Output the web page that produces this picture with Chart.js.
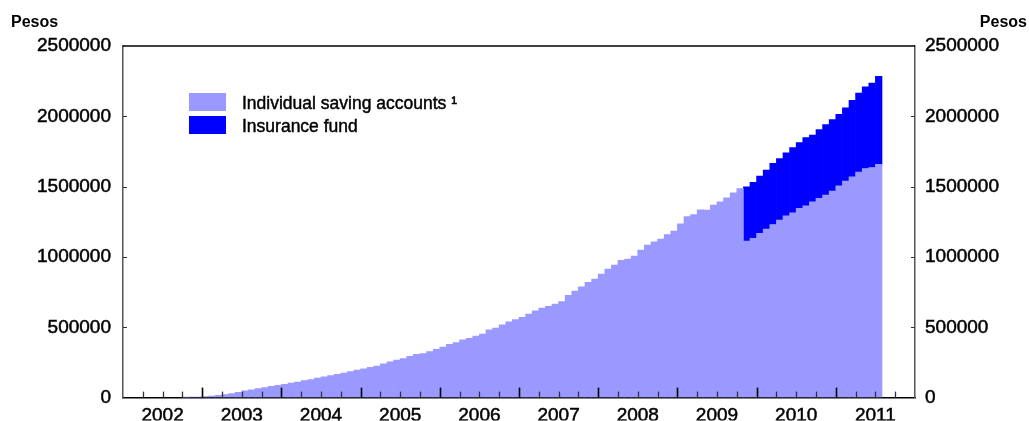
<!DOCTYPE html>
<html>
<head>
<meta charset="utf-8">
<script src="https://cdn.jsdelivr.net/npm/chart.js@4.4.1/dist/chart.umd.min.js"></script>
<style>
  html, body { margin: 0; padding: 0; background: #fff; }
  #wrap { position: relative; width: 1029px; height: 421px; font-family: "Liberation Sans", Arial, sans-serif; }
  canvas { position: absolute; left: 0; top: 0; }
  .unit { position: absolute; top: 14px; font-weight: bold; font-size: 16px; line-height: 16px; color: #000; }
  #legend { position: absolute; left: 189px; top: 93px; }
  .row { display: flex; align-items: flex-start; height: 23px; }
  .box { width: 37px; height: 18px; }
  .lbl { margin-left: 16px; font-size: 17.5px; line-height: 18px; padding-top: 1px; color: #000; white-space: nowrap; -webkit-text-stroke: 0.45px #000; }
</style>
</head>
<body>
<div id="wrap">
  <canvas id="c" width="1029" height="421"></canvas>
  <div class="unit" style="left:11px;">Pesos</div>
  <div class="unit" style="right:2px;">Pesos</div>
  <div id="legend"></div>
</div>
<script>
// ---- DATA ----
const years = ['2002','2003','2004','2005','2006','2007','2008','2009','2010','2011'];
const months = [];
years.forEach(y => { for (let m = 1; m <= 12; m++) months.push(y + '-' + String(m).padStart(2, '0')); });

const seriesNames = ['Individual saving accounts \u00B9', 'Insurance fund'];
const seriesColors = ['#9999FF', '#0000FF'];

// Individual saving accounts, monthly, Jan 2002 - Dec 2011 (null = no data)
const individual = [
  // 2002
  null, null, null, null, null, null, null, null, null, 2000, 3000, 4000,
  // 2003
  7000, 10000, 17000, 21000, 28000, 38000, 48000, 55000, 64000, 71000, 81000, 88000,
  // 2004
  95000, 104000, 111000, 121000, 128000, 138000, 147000, 156000, 166000, 175000, 185000, 195000,
  // 2005
  204000, 216000, 225000, 241000, 254000, 266000, 277000, 294000, 308000, 313000, 327000, 344000,
  // 2006
  360000, 379000, 391000, 410000, 422000, 438000, 452000, 481000, 495000, 518000, 538000, 554000,
  // 2007
  571000, 594000, 617000, 637000, 649000, 665000, 682000, 727000, 758000, 788000, 819000, 843000,
  // 2008
  879000, 914000, 942000, 976000, 985000, 1006000, 1049000, 1085000, 1108000, 1127000, 1160000, 1184000,
  // 2009
  1236000, 1288000, 1302000, 1335000, 1333000, 1369000, 1392000, 1420000, 1456000, 1487000, 1113000, 1132000,
  // 2010
  1168000, 1198000, 1231000, 1262000, 1293000, 1314000, 1345000, 1364000, 1392000, 1416000, 1440000, 1468000,
  // 2011
  1506000, 1539000, 1570000, 1603000, 1629000, 1636000, 1658000, null, null, null, null, null
];

// Insurance fund, monthly, Jan 2002 - Dec 2011
const insurance = [
  // 2002-2008
  ...Array(84).fill(null),
  // 2009
  null, null, null, null, null, null, null, null, null, null, 386000, 398000,
  // 2010
  407000, 419000, 434000, 438000, 447000, 464000, 469000, 485000, 474000, 490000, 502000, 509000,
  // 2011
  509000, 521000, 544000, 563000, 580000, 601000, 627000, null, null, null, null, null
];

const yTicks = [0, 500000, 1000000, 1500000, 2000000, 2500000];

// ---- CHART ----
const FONT = '"Liberation Sans", Arial, sans-serif';
const tickFont = { family: FONT, size: 19 };

const frame = {
  id: 'frame',
  afterDatasetsDraw(chart) {
    const { ctx, chartArea: a, scales } = chart;
    const x = scales.x, y = scales.y;
    const w = x.getPixelForValue(1) - x.getPixelForValue(0);
    ctx.save();
    // x tick marks (inward), quarterly; taller at year boundaries
    for (let i = 3; i < months.length; i += 3) {
      const px = Math.round(x.getPixelForValue(i) - w / 2) + 0.5;
      const major = i % 12 === 0;
      ctx.strokeStyle = major ? '#000' : '#333';
      ctx.lineWidth = major ? 1.6 : 1.3;
      ctx.beginPath();
      ctx.moveTo(px, a.bottom);
      ctx.lineTo(px, a.bottom - (major ? 10 : 6));
      ctx.stroke();
    }
    // y tick marks (inward) on both side axes
    ctx.strokeStyle = '#333';
    ctx.lineWidth = 1.2;
    yTicks.slice(1, -1).forEach(v => {
      const py = Math.round(y.getPixelForValue(v)) + 0.5;
      ctx.beginPath();
      ctx.moveTo(a.left, py); ctx.lineTo(a.left + 4, py);
      ctx.moveTo(a.right, py); ctx.lineTo(a.right - 4, py);
      ctx.stroke();
    });
    // top frame line
    ctx.strokeStyle = '#000';
    ctx.lineWidth = 1.5;
    ctx.beginPath();
    ctx.moveTo(a.left, a.top);
    ctx.lineTo(a.right, a.top);
    ctx.stroke();
    ctx.restore();
  }
};

const chart = new Chart(document.getElementById('c'), {
  type: 'bar',
  data: {
    labels: months,
    datasets: [
      { label: seriesNames[0], data: individual, backgroundColor: seriesColors[0], borderWidth: 0,
        barPercentage: 1, categoryPercentage: 1, xAxisID: 'x', yAxisID: 'y' },
      { label: seriesNames[1], data: insurance, backgroundColor: seriesColors[1], borderWidth: 0,
        barPercentage: 1, categoryPercentage: 1, xAxisID: 'x', yAxisID: 'y' }
    ]
  },
  options: {
    responsive: false,
    animation: false,
    layout: { padding: { top: 46, left: 0, right: 0, bottom: 0 } },
    plugins: { legend: { display: false }, tooltip: { enabled: false } },
    scales: {
      x: {
        stacked: true,
        position: 'bottom',
        ticks: { display: false },
        grid: { display: false, drawTicks: false },
        border: { display: true, color: '#000', width: 1.6 },
        afterFit(s) { s.height = 0; }
      },
      x2: {
        type: 'category',
        labels: years,
        position: 'bottom',
        offset: true,
        grid: { display: false, drawTicks: false },
        border: { display: false },
        ticks: { color: '#000', font: tickFont, padding: 7, maxRotation: 0, autoSkip: false,
                 textStrokeColor: '#000', textStrokeWidth: 0.5 },
        afterFit(s) { s.height = 23; }
      },
      y: {
        stacked: true,
        position: 'left',
        min: 0, max: 2500000,
        afterBuildTicks(s) { s.ticks = yTicks.map(v => ({ value: v })); },
        ticks: { color: '#000', font: tickFont, padding: 12, callback: v => String(v),
                 textStrokeColor: '#000', textStrokeWidth: 0.5 },
        grid: { drawOnChartArea: false, drawTicks: false },
        border: { display: true, color: '#555', width: 1.5 },
        afterFit(s) { s.width = 123; }
      },
      y2: {
        position: 'right',
        min: 0, max: 2500000,
        afterBuildTicks(s) { s.ticks = yTicks.map(v => ({ value: v })); },
        ticks: { color: '#000', font: tickFont, padding: 10, callback: v => String(v),
                 textStrokeColor: '#000', textStrokeWidth: 0.5 },
        grid: { drawOnChartArea: false, drawTicks: false },
        border: { display: true, color: '#555', width: 1.5 },
        afterFit(s) { s.width = 114; }
      }
    }
  },
  plugins: [frame]
});

// HTML legend built from the chart's datasets
const leg = document.getElementById('legend');
chart.data.datasets.forEach(ds => {
  const row = document.createElement('div'); row.className = 'row';
  const box = document.createElement('div'); box.className = 'box'; box.style.background = ds.backgroundColor;
  const lbl = document.createElement('div'); lbl.className = 'lbl'; lbl.textContent = ds.label;
  row.appendChild(box); row.appendChild(lbl); leg.appendChild(row);
});
</script>
</body>
</html>
